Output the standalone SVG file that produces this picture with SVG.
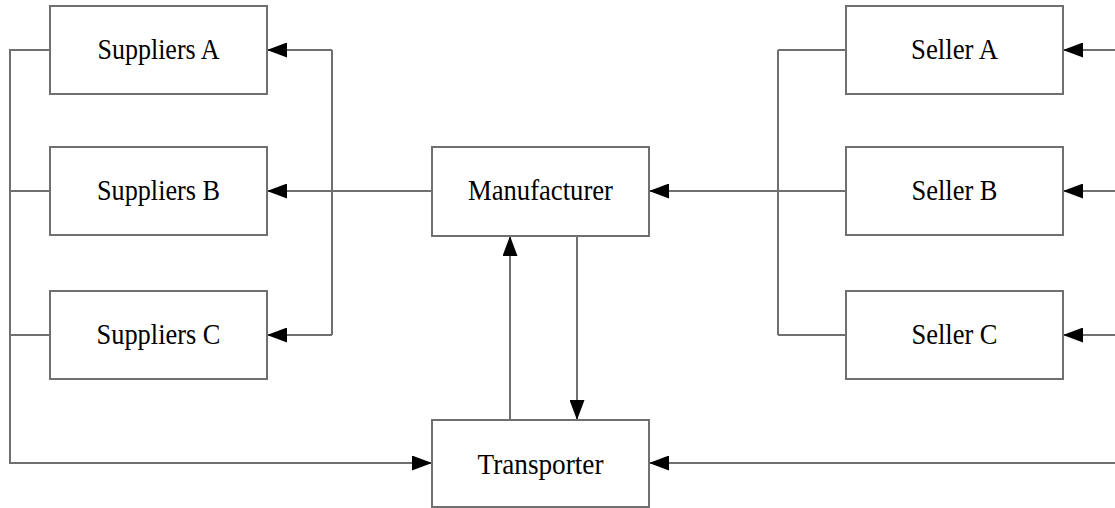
<svg xmlns="http://www.w3.org/2000/svg" width="1115" height="508" viewBox="0 0 1115 508">
  <style>
    .box { fill: #ffffff; stroke: #707070; stroke-width: 2; }
    .lbl { font-family: "Liberation Serif", "Times New Roman", serif; font-size: 30px; fill: #000000; text-anchor: middle; }
    .wire { fill: none; stroke: #707070; stroke-width: 2; }
  </style>
  <defs>
    <marker id="arrow" viewBox="0 0 20 15" refX="20" refY="7.5" markerWidth="20" markerHeight="15" markerUnits="userSpaceOnUse" orient="auto">
      <path d="M0,0 L20,7.5 L0,15 z" fill="#000000"/>
    </marker>
  </defs>
  <rect width="1115" height="508" fill="#ffffff"/>

  <g id="connectors">
    <!-- supplier column feeding the transporter -->
    <polyline class="wire" points="50,50 10,50 10,463 432,463" marker-end="url(#arrow)"/>
    <line class="wire" x1="10" y1="191" x2="50" y2="191"/>
    <line class="wire" x1="10" y1="335" x2="50" y2="335"/>
    <!-- manufacturer orders to suppliers -->
    <line class="wire" x1="432" y1="191" x2="267" y2="191" marker-end="url(#arrow)"/>
    <line class="wire" x1="332" y1="50" x2="332" y2="335"/>
    <line class="wire" x1="332" y1="50" x2="267" y2="50" marker-end="url(#arrow)"/>
    <line class="wire" x1="332" y1="335" x2="267" y2="335" marker-end="url(#arrow)"/>
    <!-- seller orders to manufacturer -->
    <line class="wire" x1="778" y1="50" x2="778" y2="335"/>
    <line class="wire" x1="846" y1="50" x2="778" y2="50"/>
    <line class="wire" x1="846" y1="335" x2="778" y2="335"/>
    <line class="wire" x1="846" y1="191" x2="649" y2="191" marker-end="url(#arrow)"/>
    <!-- incoming from the right edge -->
    <line class="wire" x1="1115" y1="50" x2="1063" y2="50" marker-end="url(#arrow)"/>
    <line class="wire" x1="1115" y1="191" x2="1063" y2="191" marker-end="url(#arrow)"/>
    <line class="wire" x1="1115" y1="335" x2="1063" y2="335" marker-end="url(#arrow)"/>
    <line class="wire" x1="1115" y1="463" x2="649" y2="463" marker-end="url(#arrow)"/>
    <!-- manufacturer and transporter exchange -->
    <line class="wire" x1="510" y1="420" x2="510" y2="236" marker-end="url(#arrow)"/>
    <line class="wire" x1="577" y1="236" x2="577" y2="420" marker-end="url(#arrow)"/>
  </g>

  <g id="suppliers-a">
    <rect class="box" x="50" y="6" width="217" height="88"/>
    <text class="lbl" x="158.5" y="59" textLength="122" lengthAdjust="spacingAndGlyphs">Suppliers A</text>
  </g>
  <g id="suppliers-b">
    <rect class="box" x="50" y="147" width="217" height="88"/>
    <text class="lbl" x="158.5" y="200" textLength="123" lengthAdjust="spacingAndGlyphs">Suppliers B</text>
  </g>
  <g id="suppliers-c">
    <rect class="box" x="50" y="291" width="217" height="88"/>
    <text class="lbl" x="158.5" y="344" textLength="124" lengthAdjust="spacingAndGlyphs">Suppliers C</text>
  </g>
  <g id="manufacturer">
    <rect class="box" x="432" y="147" width="217" height="89"/>
    <text class="lbl" x="540.5" y="200" textLength="145" lengthAdjust="spacingAndGlyphs">Manufacturer</text>
  </g>
  <g id="transporter">
    <rect class="box" x="432" y="420" width="217" height="87"/>
    <text class="lbl" x="540.5" y="474" textLength="126" lengthAdjust="spacingAndGlyphs">Transporter</text>
  </g>
  <g id="seller-a">
    <rect class="box" x="846" y="6" width="217" height="88"/>
    <text class="lbl" x="954.5" y="59" textLength="87" lengthAdjust="spacingAndGlyphs">Seller A</text>
  </g>
  <g id="seller-b">
    <rect class="box" x="846" y="147" width="217" height="88"/>
    <text class="lbl" x="954.5" y="200" textLength="86" lengthAdjust="spacingAndGlyphs">Seller B</text>
  </g>
  <g id="seller-c">
    <rect class="box" x="846" y="291" width="217" height="88"/>
    <text class="lbl" x="954.5" y="344" textLength="86" lengthAdjust="spacingAndGlyphs">Seller C</text>
  </g>
</svg>
